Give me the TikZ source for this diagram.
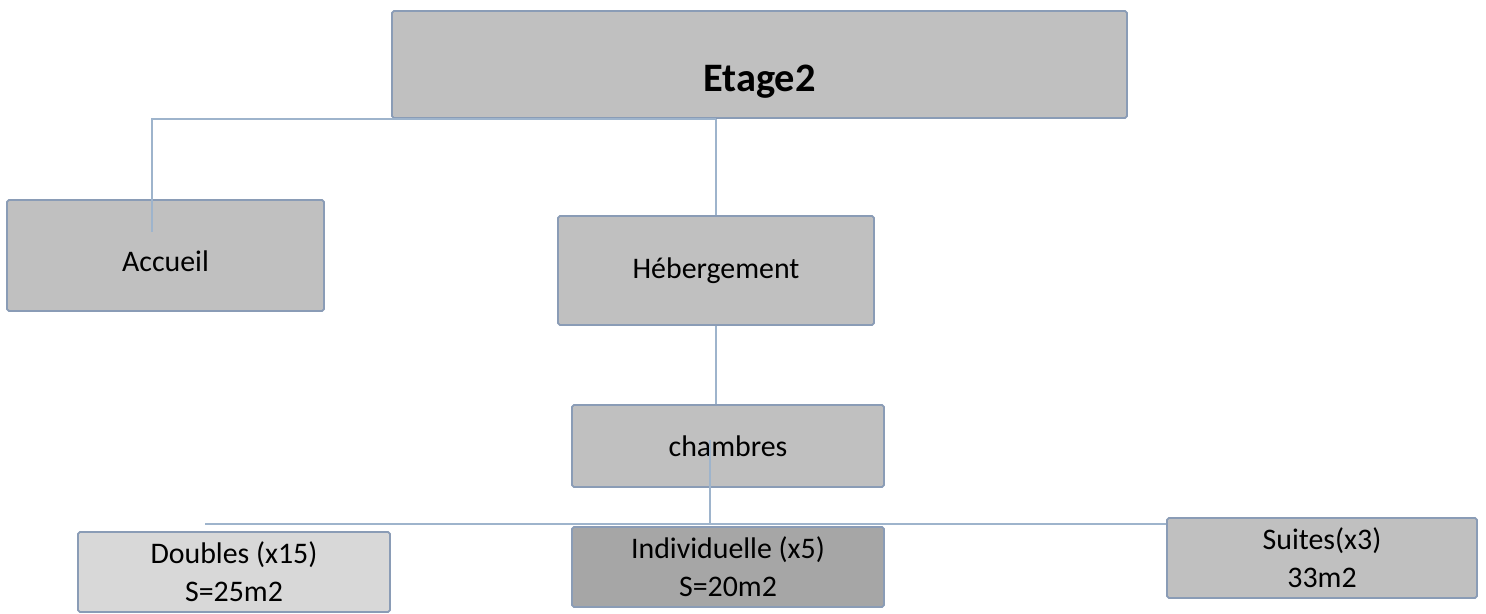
\documentclass[tikz,border=0pt]{standalone}
\usepackage{fontspec}
\setmainfont{Carlito}
\usepackage{xcolor}
\definecolor{boxfill}{RGB}{192, 192, 192}
\definecolor{boxlight}{RGB}{216, 216, 216}
\definecolor{boxdark}{RGB}{166, 166, 166}
\definecolor{boxedge}{RGB}{138, 156, 182}
\definecolor{linkline}{RGB}{158, 180, 204}
\usepackage{tikz}
\usetikzlibrary{calc}
\tikzset{
  unit/.style={draw=boxedge, line width=1pt, fill=boxfill, rounded corners=1pt,
    align=center, font=\fontsize{17}{21.5}\selectfont, inner sep=0pt},
  link/.style={draw=linkline, line width=0.9pt},
}

\begin{document}
\begin{tikzpicture}[x=0.02cm, y=-0.02cm]
  \useasboundingbox (0,0) rectangle (1486,614);
  % boxes
  \node[unit, minimum width=14.7cm, minimum height=2.14cm, font=\fontsize{23}{27}\selectfont\bfseries] (etage) at (759.5,64.5) {\raisebox{-0.55cm}[0pt][0pt]{Etage2}};
  \node[unit, minimum width=6.34cm, minimum height=2.22cm] (accueil) at (165.5,255.5) {\raisebox{-0.32cm}[0pt][0pt]{Accueil}};
  \node[unit, minimum width=6.32cm, minimum height=2.18cm] (hebergement) at (716,270.5) {Hébergement};
  \node[unit, minimum width=6.24cm, minimum height=1.64cm] (chambres) at (728,446) {chambres};
  \node[unit, fill=boxlight, minimum width=6.24cm, minimum height=1.6cm] (doubles) at (234,572) {Doubles (x15)\\S=25m2};
  \node[unit, fill=boxdark, minimum width=6.24cm, minimum height=1.6cm] (individuelle) at (728,567) {Individuelle (x5)\\S=20m2};
  \node[unit, minimum width=6.2cm, minimum height=1.6cm] (suites) at (1322,558) {Suites(x3)\\33m2};
  % links
  \coordinate (accueil-in) at (152,232);
  \coordinate (chambres-in) at (710,440);
  \coordinate (bus-left) at (205,524);
  \draw[link] (etage.south -| hebergement.north) -| (accueil-in);
  \draw[link] (etage.south -| hebergement.north) -- (hebergement.north);
  \draw[link] (hebergement.south) -- (hebergement.south |- chambres.north);
  \draw[link] (chambres-in) -- (chambres-in |- bus-left);
  \draw[link] (bus-left) -- (suites.west |- bus-left);
\end{tikzpicture}
\end{document}
